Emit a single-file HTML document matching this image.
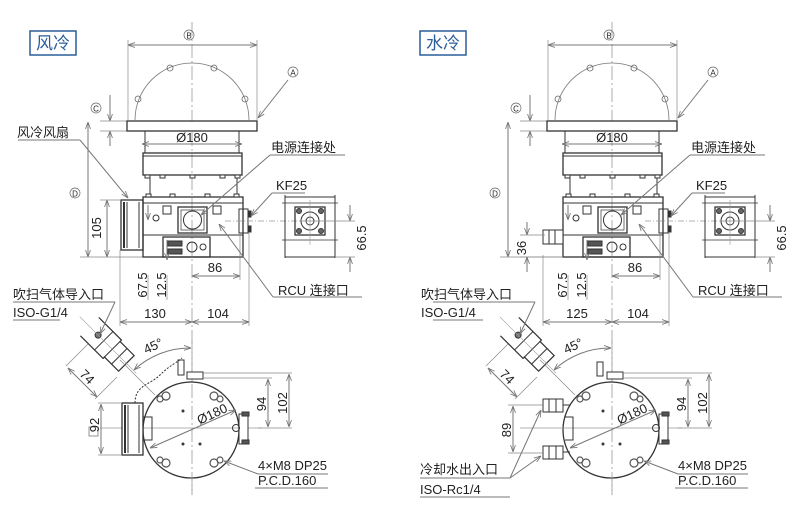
<!DOCTYPE html>
<html><head><meta charset="utf-8"><style>
html,body{margin:0;padding:0;background:#fff}
svg{display:block}
text{font-family:"Liberation Sans","Noto Sans CJK SC",sans-serif;fill:#222}
.c{font-size:13px;font-family:"Liberation Sans","Noto Sans CJK SC",sans-serif}
</style></head><body>
<svg width="800" height="520" viewBox="0 0 800 520" xmlns="http://www.w3.org/2000/svg">
<defs>
<marker id="ar" viewBox="0 0 10 10" refX="10" refY="5" markerWidth="7" markerHeight="7" orient="auto-start-reverse"><path d="M0,1.5 L10,5 L0,8.5" fill="none" stroke="#777" stroke-width="1.2"/></marker>
<g id="com" fill="none" stroke="#333" stroke-width="1">
  <line x1="192" y1="22" x2="192" y2="495" stroke="#999" stroke-width="0.8" stroke-dasharray="14,3,2,3"/>
  <line x1="128" y1="45" x2="257" y2="45" stroke="#777" marker-start="url(#ar)" marker-end="url(#ar)"/>
  <line x1="128" y1="40" x2="128" y2="120" stroke="#888" stroke-width="0.7"/>
  <line x1="257" y1="40" x2="257" y2="120" stroke="#888" stroke-width="0.7"/>
  <circle cx="189" cy="35" r="5" stroke="#666" stroke-width="0.7"/>
  <path d="M135,120 A57,57 0 0 1 249,120" stroke="#777" stroke-width="0.8"/>
  <g stroke="#666" stroke-width="0.8">
   <circle cx="138" cy="99" r="3"/><circle cx="170" cy="68" r="3"/><circle cx="214" cy="68" r="3"/><circle cx="245" cy="99" r="3"/>
  </g>
  <circle cx="293" cy="72" r="5" stroke="#666" stroke-width="0.7"/>
  <line x1="288" y1="80" x2="258" y2="118" stroke="#777" marker-end="url(#ar)"/>
  <circle cx="96" cy="108" r="5" stroke="#666" stroke-width="0.7"/>
  <line x1="110" y1="95" x2="110" y2="121" stroke="#777" marker-end="url(#ar)"/>
  <line x1="110" y1="146" x2="110" y2="131" stroke="#777" marker-end="url(#ar)"/>
  <line x1="100" y1="121" x2="128" y2="121" stroke="#888" stroke-width="0.7"/>
  <line x1="100" y1="131" x2="128" y2="131" stroke="#888" stroke-width="0.7"/>
  <line x1="88" y1="122" x2="88" y2="257" stroke="#777" marker-start="url(#ar)" marker-end="url(#ar)"/>
  <circle cx="75" cy="193" r="5" stroke="#666" stroke-width="0.7"/>
  <line x1="80" y1="257" x2="143" y2="257" stroke="#888" stroke-width="0.7"/>
  <rect x="127" y="121" width="130" height="10" fill="#fff" stroke-width="1.3"/>
  <rect x="145" y="131" width="94" height="22"/>
  <line x1="142" y1="144" x2="242" y2="144" stroke="#777" marker-start="url(#ar)" marker-end="url(#ar)"/>
  <rect x="143" y="153" width="99" height="22" stroke-width="1.3"/>
  <line x1="143" y1="156" x2="242" y2="156"/>
  <g fill="#fff"><rect x="145" y="175" width="5" height="3"/><rect x="160" y="175" width="5" height="3"/><rect x="190" y="175" width="5" height="3"/><rect x="220" y="175" width="5" height="3"/><rect x="235" y="175" width="5" height="3"/></g>
  <line x1="150" y1="178" x2="150" y2="197"/><line x1="237" y1="178" x2="237" y2="197"/>
  <rect x="143" y="197" width="100" height="60" stroke-width="1.3"/>
  <line x1="143" y1="203" x2="243" y2="203"/>
  <line x1="143" y1="235" x2="243" y2="235"/>
  <g fill="#fff"><rect x="146" y="194" width="5" height="3"/><rect x="170" y="194" width="5" height="3"/><rect x="205" y="194" width="5" height="3"/><rect x="234" y="194" width="5" height="3"/></g>
  <rect x="163" y="206" width="8" height="8"/><rect x="213" y="206" width="8" height="8"/>
  <circle cx="156" cy="218" r="3"/>
  <rect x="178" y="207" width="29" height="26" stroke-width="1.3"/>
  <rect x="181" y="210" width="23" height="20" stroke-width="0.7"/>
  <circle cx="192.5" cy="220" r="9"/>
  <rect x="239" y="209" width="9" height="24"/>
  <rect x="248" y="211" width="3" height="6" fill="#333"/><rect x="248" y="226" width="3" height="6" fill="#333"/>
  <line x1="225" y1="221" x2="300" y2="221" stroke="#999" stroke-width="0.7" stroke-dasharray="6,2,1,2"/>
  <rect x="163" y="237" width="47" height="20" stroke-width="1.3"/>
  <rect x="168" y="241" width="14" height="5" fill="#555"/><rect x="168" y="249" width="14" height="5" fill="#555"/>
  <circle cx="192" cy="247" r="5"/><circle cx="203" cy="247" r="3"/>
  <line x1="285" y1="195" x2="285" y2="258"/><line x1="335" y1="195" x2="335" y2="258"/>
  <line x1="285" y1="197" x2="335" y2="197"/><line x1="285" y1="257" x2="335" y2="257"/>
  <line x1="282" y1="203" x2="338" y2="203" stroke-width="0.7"/><line x1="282" y1="240" x2="338" y2="240" stroke-width="0.7"/>
  <rect x="295" y="207" width="30" height="28" stroke-width="1.3"/>
  <circle cx="310" cy="221" r="9"/><circle cx="310" cy="221" r="4"/>
  <circle cx="299" cy="211" r="2.5" fill="#666"/><circle cx="321" cy="211" r="2.5" fill="#666"/><circle cx="299" cy="231" r="2.5" fill="#666"/><circle cx="321" cy="231" r="2.5" fill="#666"/>
  <line x1="310" y1="200" x2="310" y2="245" stroke="#999" stroke-width="0.6"/>
  <line x1="300" y1="221" x2="355" y2="221" stroke="#888" stroke-width="0.7"/>
  <line x1="335" y1="257" x2="355" y2="257" stroke="#888" stroke-width="0.7"/>
  <line x1="350" y1="205" x2="350" y2="221" stroke="#777" marker-end="url(#ar)"/>
  <line x1="350" y1="272" x2="350" y2="257" stroke="#777" marker-end="url(#ar)"/>
  <line x1="192" y1="276" x2="240" y2="276" stroke="#777" marker-start="url(#ar)" marker-end="url(#ar)"/>
  <line x1="240" y1="233" x2="240" y2="280" stroke="#888" stroke-width="0.7"/>
  <line x1="249" y1="233" x2="249" y2="326" stroke="#888" stroke-width="0.7"/>
  <line x1="167" y1="240" x2="167" y2="260" stroke="#777" marker-end="url(#ar)"/>
  <line x1="167" y1="275" x2="167" y2="300" stroke="#888" stroke-width="0.7"/>
  <line x1="148" y1="205" x2="148" y2="220" stroke="#777" marker-end="url(#ar)"/>
  <line x1="148" y1="275" x2="148" y2="300" stroke="#888" stroke-width="0.7"/>
  <line x1="192" y1="322" x2="249" y2="322" stroke="#777" marker-start="url(#ar)" marker-end="url(#ar)"/>
  <line x1="345" y1="155" x2="270" y2="155" stroke="#777"/>
  <line x1="270" y1="155" x2="201" y2="215" stroke="#777" marker-end="url(#ar)"/>
  <line x1="305" y1="193" x2="272" y2="193" stroke="#777"/>
  <line x1="272" y1="193" x2="251" y2="216" stroke="#777" marker-end="url(#ar)"/>
  <line x1="362" y1="297" x2="273" y2="297" stroke="#777"/>
  <line x1="273" y1="297" x2="219" y2="224" stroke="#777" marker-end="url(#ar)"/>
  <circle cx="191" cy="430" r="48" stroke-width="1.3" fill="#fff"/>
  <line x1="192" y1="340" x2="192" y2="495" stroke="#999" stroke-width="0.8" stroke-dasharray="14,3,2,3"/>
  <line x1="100" y1="428" x2="262" y2="428" stroke="#999" stroke-width="0.7"/>
  <rect x="187" y="372" width="16" height="7" fill="#fff"/>
  <line x1="203" y1="373" x2="292" y2="373" stroke="#888" stroke-width="0.7"/>
  <line x1="203" y1="378" x2="272" y2="378" stroke="#888" stroke-width="0.7"/>
  <line x1="268" y1="379" x2="268" y2="427" stroke="#777" marker-start="url(#ar)" marker-end="url(#ar)"/>
  <line x1="289" y1="374" x2="289" y2="427" stroke="#777" marker-start="url(#ar)" marker-end="url(#ar)"/>
  <line x1="258" y1="428" x2="292" y2="428" stroke="#888" stroke-width="0.7"/>
  <line x1="236" y1="410" x2="150" y2="448" stroke="#777" marker-start="url(#ar)" marker-end="url(#ar)"/>
  <g stroke="#555" stroke-width="1.2"><circle cx="166" cy="396" r="4"/><circle cx="160" cy="399" r="3"/><circle cx="214" cy="396" r="4"/><circle cx="220" cy="399" r="3"/><circle cx="166" cy="463" r="4"/><circle cx="160" cy="460" r="3"/><circle cx="214" cy="463" r="4"/><circle cx="220" cy="460" r="3"/></g>
  <circle cx="183" cy="411" r="1" fill="#555"/><circle cx="183" cy="444" r="1" fill="#555"/><circle cx="200" cy="444" r="1" fill="#555"/>
  <rect x="239" y="414" width="9" height="30" fill="#fff"/>
  <circle cx="236" cy="428" r="3.5"/>
  <rect x="242" y="412" width="7" height="4" fill="#555"/><rect x="242" y="440" width="7" height="4" fill="#555"/>
  <line x1="328" y1="474" x2="258" y2="474" stroke="#777"/>
  <line x1="258" y1="474" x2="224" y2="461" stroke="#777" marker-end="url(#ar)"/>
  <line x1="328" y1="488" x2="255" y2="488" stroke="#777"/>
  <g transform="translate(108,345) rotate(45)">
   <path d="M-26,-13 L6,-13 L6,-11 L26,-11 L26,11 L6,11 L6,13 L-26,13" fill="#fff" stroke-width="1.2"/>
   <line x1="-6" y1="-13" x2="-6" y2="13"/><line x1="6" y1="-11" x2="6" y2="11"/><line x1="16" y1="-11" x2="16" y2="11"/>
   <circle cx="-14" cy="0" r="3" fill="#777"/>
   <line x1="-40" y1="0" x2="40" y2="0" stroke="#999" stroke-width="0.6"/>
  </g>
  <line x1="155" y1="395" x2="120" y2="360" stroke="#888" stroke-width="0.7"/>
  <line x1="68" y1="368" x2="97" y2="397" stroke="#777" marker-start="url(#ar)" marker-end="url(#ar)"/>
  <line x1="66" y1="366" x2="88" y2="344" stroke="#888" stroke-width="0.7"/>
  <line x1="95" y1="399" x2="117" y2="377" stroke="#888" stroke-width="0.7"/>
  <path d="M134,370 A82,82 0 0 1 191,348" stroke="#777" marker-start="url(#ar)" marker-end="url(#ar)"/>
</g>
</defs>

<use href="#com"/>
<use href="#com" x="420"/>

<g fill="none" stroke="#333" stroke-width="1">
 <rect x="30" y="31" width="46" height="24" stroke="#2a5d9a" stroke-width="1.5"/>
 <rect x="420" y="31" width="46" height="24" stroke="#2a5d9a" stroke-width="1.5"/>
 <rect x="121" y="200" width="22" height="50" stroke-width="1.3"/>
 <line x1="124" y1="202" x2="124" y2="248" stroke-width="2"/><line x1="127" y1="202" x2="127" y2="248"/><line x1="139" y1="202" x2="139" y2="248"/>
 <line x1="18" y1="140" x2="80" y2="140" stroke="#777"/>
 <line x1="80" y1="140" x2="128" y2="198" stroke="#777" marker-end="url(#ar)"/>
 <line x1="100" y1="200" x2="121" y2="200" stroke="#888" stroke-width="0.7"/>
 <line x1="107" y1="200" x2="107" y2="257" stroke="#777" marker-start="url(#ar)" marker-end="url(#ar)"/>
 <line x1="120" y1="250" x2="120" y2="326" stroke="#888" stroke-width="0.7"/>
 <line x1="120" y1="322" x2="192" y2="322" stroke="#777" marker-start="url(#ar)" marker-end="url(#ar)"/>
 <line x1="13" y1="302" x2="115" y2="302" stroke="#777"/>
 <line x1="115" y1="302" x2="100" y2="334" stroke="#777" marker-end="url(#ar)"/>
 <line x1="13" y1="320" x2="60" y2="320" stroke="#777"/>
 <rect x="122" y="403" width="21" height="52" fill="#fff" stroke-width="1.3"/>
 <line x1="125" y1="405" x2="125" y2="453" stroke-width="2"/><line x1="128" y1="405" x2="128" y2="453"/><line x1="139" y1="405" x2="139" y2="453"/>
 <path d="M143,417 H152 V440 H143"/>
 <path d="M135,403 C135,385 150,385 160,375 C170,365 178,362 182,358" stroke-dasharray="2,1.5"/>
 <rect x="178" y="360" width="6" height="15"/>
 <line x1="98" y1="403" x2="122" y2="403" stroke="#888" stroke-width="0.7"/>
 <line x1="98" y1="455" x2="122" y2="455" stroke="#888" stroke-width="0.7"/>
 <line x1="101" y1="404" x2="101" y2="454" stroke="#777" marker-start="url(#ar)" marker-end="url(#ar)"/>
 <rect x="89" y="427" width="9" height="9" stroke="#666" stroke-width="0.7"/>

 <rect x="543" y="230" width="20" height="14" fill="#fff"/>
 <line x1="549" y1="230" x2="549" y2="244"/><line x1="555" y1="230" x2="555" y2="244"/>
 <line x1="520" y1="235" x2="545" y2="235" stroke="#888" stroke-width="0.7"/>
 <line x1="520" y1="257" x2="563" y2="257" stroke="#888" stroke-width="0.7"/>
 <line x1="527" y1="222" x2="527" y2="235" stroke="#777" marker-end="url(#ar)"/>
 <line x1="527" y1="272" x2="527" y2="257" stroke="#777" marker-end="url(#ar)"/>
 <line x1="543" y1="255" x2="543" y2="326" stroke="#888" stroke-width="0.7"/>
 <line x1="543" y1="322" x2="612" y2="322" stroke="#777" marker-start="url(#ar)" marker-end="url(#ar)"/>
 <line x1="433" y1="302" x2="535" y2="302" stroke="#777"/>
 <line x1="535" y1="302" x2="520" y2="334" stroke="#777" marker-end="url(#ar)"/>
 <line x1="433" y1="320" x2="483" y2="320" stroke="#777"/>
 <rect x="543" y="399" width="20" height="13" fill="#fff"/><line x1="549" y1="399" x2="549" y2="412"/><line x1="556" y1="399" x2="556" y2="412"/><line x1="563" y1="405" x2="570" y2="405"/>
 <rect x="543" y="446" width="20" height="13" fill="#fff"/><line x1="549" y1="446" x2="549" y2="459"/><line x1="556" y1="446" x2="556" y2="459"/><line x1="563" y1="452" x2="570" y2="452"/>
 <path d="M565,417 H573 V440 H565"/>
 <rect x="597" y="362" width="6" height="14"/>
 <line x1="508" y1="405" x2="543" y2="405" stroke="#888" stroke-width="0.7"/>
 <line x1="508" y1="453" x2="543" y2="453" stroke="#888" stroke-width="0.7"/>
 <line x1="513" y1="406" x2="513" y2="452" stroke="#777" marker-start="url(#ar)" marker-end="url(#ar)"/>
 <line x1="420" y1="478" x2="510" y2="478" stroke="#777"/>
 <line x1="510" y1="478" x2="541" y2="410" stroke="#777" marker-end="url(#ar)"/>
 <line x1="510" y1="478" x2="541" y2="456" stroke="#777" marker-end="url(#ar)"/>
 <line x1="420" y1="497" x2="510" y2="497" stroke="#777"/>
</g>

<g>
 <text x="53" y="49" text-anchor="middle" style="font-size:17px;fill:#2a5d9a">风冷</text>
 <text x="443" y="49" text-anchor="middle" style="font-size:17px;fill:#2a5d9a">水冷</text>
</g>
<g font-size="13">
 <text x="189" y="38.5" text-anchor="middle" font-size="8">B</text>
 <text x="293" y="75.5" text-anchor="middle" font-size="8">A</text>
 <text x="96" y="111.5" text-anchor="middle" font-size="8">C</text>
 <text x="75" y="196.5" text-anchor="middle" font-size="8">D</text>
 <text x="192" y="142" text-anchor="middle">Ø180</text>
 <text x="17" y="137" class="c">风冷风扇</text>
 <text x="271" y="152" class="c">电源连接处</text>
 <text x="276" y="190">KF25</text>
 <text transform="translate(101,228) rotate(-90)" text-anchor="middle">105</text>
 <text transform="translate(366,238) rotate(-90)" text-anchor="middle">66.5</text>
 <text x="215" y="272" text-anchor="middle">86</text>
 <text transform="translate(147,285) rotate(-90)" text-anchor="middle">67.5</text>
 <text transform="translate(166,285) rotate(-90)" text-anchor="middle">12.5</text>
 <text x="278" y="295" class="c">RCU 连接口</text>
 <text x="13" y="299" class="c">吹扫气体导入口</text>
 <text x="13" y="317">ISO-G1/4</text>
 <text x="155" y="318" text-anchor="middle">130</text>
 <text x="218" y="318" text-anchor="middle">104</text>
 <text transform="translate(155,350) rotate(-25)" text-anchor="middle">45°</text>
 <text transform="translate(84,380) rotate(45)" text-anchor="middle">74</text>
 <text transform="translate(99,425) rotate(-90)" text-anchor="middle">92</text>
 <text transform="translate(266,404) rotate(-90)" text-anchor="middle">94</text>
 <text transform="translate(287,403) rotate(-90)" text-anchor="middle">102</text>
 <text transform="translate(214,418) rotate(-25)" text-anchor="middle">Ø180</text>
 <text x="258" y="470">4×M8 DP25</text>
 <text x="258" y="485">P.C.D.160</text>

 <text x="609" y="38.5" text-anchor="middle" font-size="8">B</text>
 <text x="713" y="75.5" text-anchor="middle" font-size="8">A</text>
 <text x="516" y="111.5" text-anchor="middle" font-size="8">C</text>
 <text x="495" y="196.5" text-anchor="middle" font-size="8">D</text>
 <text x="612" y="142" text-anchor="middle">Ø180</text>
 <text x="691" y="152" class="c">电源连接处</text>
 <text x="696" y="190">KF25</text>
 <text transform="translate(786,238) rotate(-90)" text-anchor="middle">66.5</text>
 <text transform="translate(526,248) rotate(-90)" text-anchor="middle">36</text>
 <text x="635" y="272" text-anchor="middle">86</text>
 <text transform="translate(567,285) rotate(-90)" text-anchor="middle">67.5</text>
 <text transform="translate(586,285) rotate(-90)" text-anchor="middle">12.5</text>
 <text x="698" y="295" class="c">RCU 连接口</text>
 <text x="421" y="299" class="c">吹扫气体导入口</text>
 <text x="421" y="317">ISO-G1/4</text>
 <text x="577" y="318" text-anchor="middle">125</text>
 <text x="638" y="318" text-anchor="middle">104</text>
 <text transform="translate(575,350) rotate(-25)" text-anchor="middle">45°</text>
 <text transform="translate(504,380) rotate(45)" text-anchor="middle">74</text>
 <text transform="translate(511,430) rotate(-90)" text-anchor="middle">89</text>
 <text transform="translate(686,404) rotate(-90)" text-anchor="middle">94</text>
 <text transform="translate(707,403) rotate(-90)" text-anchor="middle">102</text>
 <text transform="translate(634,418) rotate(-25)" text-anchor="middle">Ø180</text>
 <text x="678" y="470">4×M8 DP25</text>
 <text x="678" y="485">P.C.D.160</text>
 <text x="420" y="474" class="c">冷却水出入口</text>
 <text x="420" y="494">ISO-Rc1/4</text>
</g>
</svg>
</body></html>
